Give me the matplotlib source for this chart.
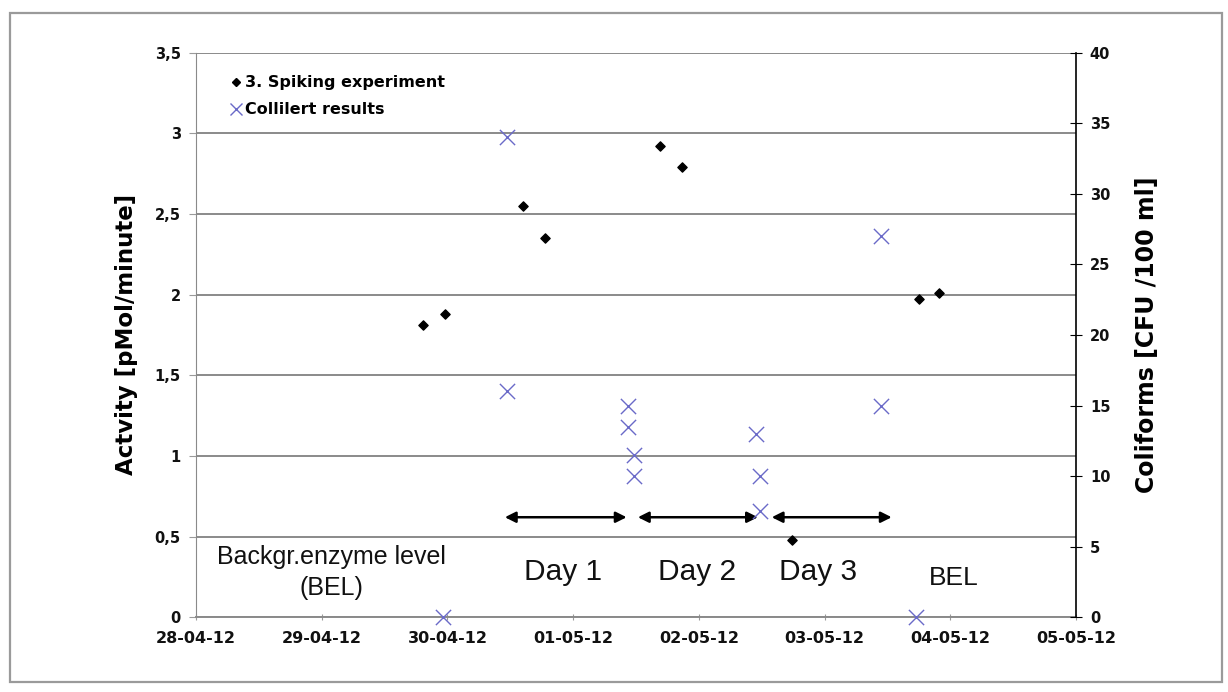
import pandas as pd
import matplotlib.pyplot as plt
import matplotlib.dates as mdates
from matplotlib.lines import Line2D
from matplotlib.patches import Rectangle
from matplotlib.ticker import MultipleLocator, FuncFormatter

# 3. Spiking experiment - enzyme activity [pMol/minute]
spike_time = ["2012-04-29 19:24", "2012-04-29 23:33", "2012-04-30 14:25",
              "2012-04-30 18:37", "2012-05-01 16:35", "2012-05-01 20:44",
              "2012-05-02 17:44", "2012-05-03 18:01", "2012-05-03 21:55"]
spike_activity = [1.81, 1.88, 2.55, 2.35, 2.92, 2.79, 0.48, 1.97, 2.01]

# Colilert results - coliforms [CFU/100 ml]
colilert_time = ["2012-04-29 23:13", "2012-04-30 11:20", "2012-04-30 11:20",
                 "2012-05-01 10:32", "2012-05-01 10:32", "2012-05-01 11:43",
                 "2012-05-01 11:43", "2012-05-02 10:51", "2012-05-02 11:41",
                 "2012-05-02 11:41", "2012-05-03 10:41", "2012-05-03 10:41",
                 "2012-05-03 17:27"]
coliforms = [0, 34, 16, 15, 13.5, 11.5, 10, 13, 10, 7.5, 27, 15, 0]

# sampling days (start, end) shown with arrows
day_names = ["Day 1", "Day 2", "Day 3"]
day_start = ["2012-04-30 10:58", "2012-05-01 12:22", "2012-05-02 13:55"]
day_end = ["2012-05-01 10:13", "2012-05-02 11:17", "2012-05-03 12:49"]
day_label_x = ["2012-04-30 22:03", "2012-05-01 23:44", "2012-05-02 22:51"]

date_ticks = pd.date_range("2012-04-28", "2012-05-05", freq="D")

spike_time = pd.to_datetime(spike_time)
colilert_time = pd.to_datetime(colilert_time)

fig = plt.figure(figsize=(12.28, 6.92), dpi=100)
ax1 = fig.add_axes([0.1596, 0.108, 0.7166, 0.816])

comma = FuncFormatter(lambda v, p: ("%g" % v).replace(".", ","))

# activity on left axis
ax1.scatter(spike_time, spike_activity, marker="D", s=22, color="black",
            zorder=4, clip_on=False)
ax1.set_ylim(0, 3.5)
ax1.set_xlim(date_ticks[0], date_ticks[-1])
ax1.yaxis.set_major_locator(MultipleLocator(0.5))
ax1.yaxis.set_major_formatter(comma)
ax1.grid(axis="y", color="#8a8a8a", linewidth=1.4)
ax1.set_axisbelow(True)
ax1.set_xticks(date_ticks)
ax1.xaxis.set_major_formatter(mdates.DateFormatter("%d-%m-%y"))
ax1.tick_params(axis="x", colors="#9a9a9a", length=4, direction="inout", pad=8)
ax1.tick_params(axis="y", colors="#9a9a9a", length=5, pad=6)
for lbl in ax1.get_xticklabels():
    lbl.set(color="#111111", family="DejaVu Sans", weight="bold", size=11.5)
for lbl in ax1.get_yticklabels():
    lbl.set(color="#111111", family="DejaVu Sans", weight="bold", size=10.5)
for side in ["top", "right"]:
    ax1.spines[side].set_visible(False)
ax1.spines["left"].set_color("#8a8a8a")
ax1.spines["bottom"].set_color("#8a8a8a")
ax1.spines["bottom"].set_linewidth(1.4)
ax1.set_ylabel("Actvity [pMol/minute]", fontsize=16.5, fontweight="bold",
               family="DejaVu Sans", labelpad=12)

# coliforms on right axis
ax2 = ax1.twinx()
ax2.scatter(colilert_time, coliforms, marker="x", s=120, color="#6a6ac8",
            linewidths=1.0, zorder=5, clip_on=False)
ax2.set_ylim(0, 40)
ax2.yaxis.set_major_locator(MultipleLocator(5))
ax2.tick_params(axis="y", colors="black", length=8, direction="inout", pad=6)
for lbl in ax2.get_yticklabels():
    lbl.set(color="#111111", family="DejaVu Sans", weight="bold", size=10.5)
for side in ["top", "left", "bottom"]:
    ax2.spines[side].set_visible(False)
ax2.spines["right"].set_color("black")
ax2.spines["right"].set_linewidth(1.2)
ax2.set_ylabel("Coliforms [CFU /100 ml]", fontsize=17, fontweight="bold",
               family="DejaVu Sans", labelpad=18)

# day arrows and labels
for name, s, e, lx in zip(day_names, day_start, day_end, day_label_x):
    ax1.annotate("", xy=(pd.Timestamp(e), 0.62), xytext=(pd.Timestamp(s), 0.62),
                 arrowprops=dict(arrowstyle="<|-|>", color="black", lw=1.8,
                                 mutation_scale=16, shrinkA=0, shrinkB=0))
    ax1.text(pd.Timestamp(lx), 0.231, name, ha="center", va="baseline",
             fontsize=21.5, family="Liberation Sans", color="#111111")

ax1.text(pd.Timestamp("2012-04-29 01:46"), 0.277, "Backgr.enzyme level\n(BEL)",
         ha="center", va="center", fontsize=18, family="Liberation Sans",
         color="#111111", linespacing=1.35)
ax1.text(pd.Timestamp("2012-05-04 00:43"), 0.20, "BEL", ha="center",
         va="baseline", fontsize=19, family="Liberation Sans", color="#111111")

# legend
handles = [Line2D([], [], marker="D", color="black", linestyle="none", markersize=4),
           Line2D([], [], marker="x", color="#6a6ac8", linestyle="none",
                  markersize=9, markeredgewidth=1.0)]
ax1.legend(handles, ["3. Spiking experiment", "Collilert results"],
           loc="upper left", bbox_to_anchor=(0.024, 0.985), frameon=False,
           handlelength=0.6, handletextpad=0.25, labelspacing=0.75,
           prop=dict(family="DejaVu Sans", weight="bold", size=11.5))

# outer frame
fig.patches.append(Rectangle((0.008, 0.0145), 0.987, 0.9665, transform=fig.transFigure,
                             fill=False, edgecolor="#9a9a9a", linewidth=1.6))

fig.savefig("out.png", dpi=100)
